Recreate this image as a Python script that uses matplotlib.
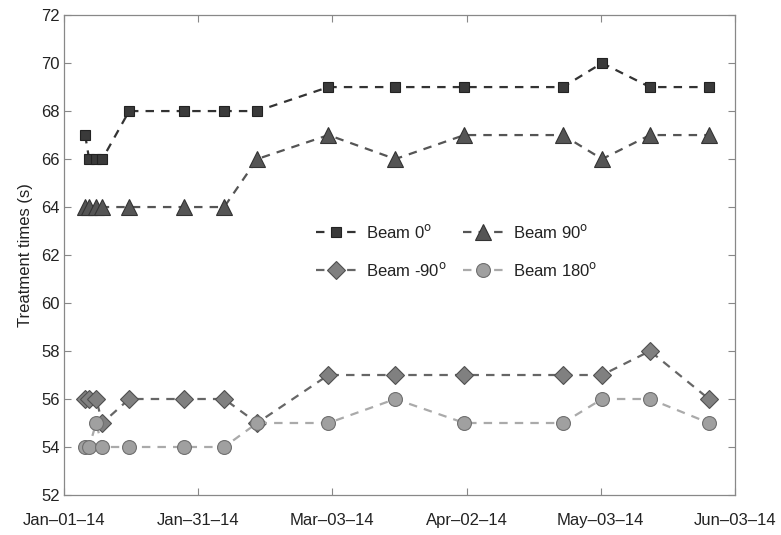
import numpy as np
import matplotlib.pyplot as plt

plt.rcParams['font.family'] = ['Liberation Sans', 'DejaVu Sans']

# days since Jan-01-14 of each treatment session
days = [4.8, 5.7, 7.3, 8.7, 14.8, 27.3, 36.4, 43.9, 60.1, 75.3, 91.0, 113.4, 122.3, 133.2, 146.6]

beam_0 = [67, 66, 66, 66, 68, 68, 68, 68, 69, 69, 69, 69, 70, 69, 69]
beam_90 = [64, 64, 64, 64, 64, 64, 64, 66, 67, 66, 67, 67, 66, 67, 67]
beam_m90 = [56, 56, 56, 55, 56, 56, 56, 55, 57, 57, 57, 57, 57, 58, 56]
beam_180 = [54, 54, 55, 54, 54, 54, 54, 55, 55, 56, 55, 55, 56, 56, 55]

tick_days = [0, 30.5, 61, 91.5, 122, 152.5]
tick_labels = ["Jan\u201301\u201314", "Jan\u201331\u201314", "Mar\u201303\u201314",
               "Apr\u201302\u201314", "May\u201303\u201314", "Jun\u201303\u201314"]

legend_labels = [r"Beam 0$^{\mathrm{o}}$", r"Beam -90$^{\mathrm{o}}$",
                 r"Beam 90$^{\mathrm{o}}$", r"Beam 180$^{\mathrm{o}}$"]

fig = plt.figure(figsize=(7.81, 5.35), dpi=100)
ax = fig.add_axes([0.0820, 0.0748, 0.8590, 0.8970])

dash = (0, (3.8, 3.2))
l0, = ax.plot(days, beam_0, linestyle=dash, linewidth=1.6, color="#333333",
              marker="s", markersize=7.5, markerfacecolor="#3a3a3a", markeredgecolor="#222222",
              markeredgewidth=0.8)
l90, = ax.plot(days, beam_90, linestyle=dash, linewidth=1.6, color="#555555",
               marker="^", markersize=11, markerfacecolor="#555555", markeredgecolor="#333333",
               markeredgewidth=0.8)
lm90, = ax.plot(days, beam_m90, linestyle=dash, linewidth=1.6, color="#666666",
                marker="D", markersize=9, markerfacecolor="#808080", markeredgecolor="#505050",
                markeredgewidth=0.8)
l180, = ax.plot(days, beam_180, linestyle=dash, linewidth=1.6, color="#aaaaaa",
                marker="o", markersize=10, markerfacecolor="#a0a0a0", markeredgecolor="#707070",
                markeredgewidth=0.8)

ax.set_xlim(0, 152.5)
ax.set_ylim(52, 72)
ax.set_xticks(tick_days)
ax.set_xticklabels(tick_labels)
ax.set_yticks(np.arange(52, 73, 2))
ax.tick_params(direction="in", top=True, right=True, labelsize=12, length=5,
               color="#888888", labelcolor="#222222")
ax.tick_params(axis="x", pad=13)
ax.tick_params(axis="y", pad=3)
for s in ax.spines.values():
    s.set_color("#888888")
    s.set_linewidth(0.9)

ax.set_ylabel("Treatment times (s)", fontsize=12, color="#222222", labelpad=6)

# row-wise order like the original legend
ax.legend([l0, lm90, l90, l180], legend_labels,
          ncol=2, frameon=False, loc="center", bbox_to_anchor=(0.585, 0.508),
          fontsize=12, handlelength=2.4, handletextpad=0.6, columnspacing=1.0,
          labelspacing=1.2, labelcolor="#222222")

fig.savefig("out.png", dpi=100)
